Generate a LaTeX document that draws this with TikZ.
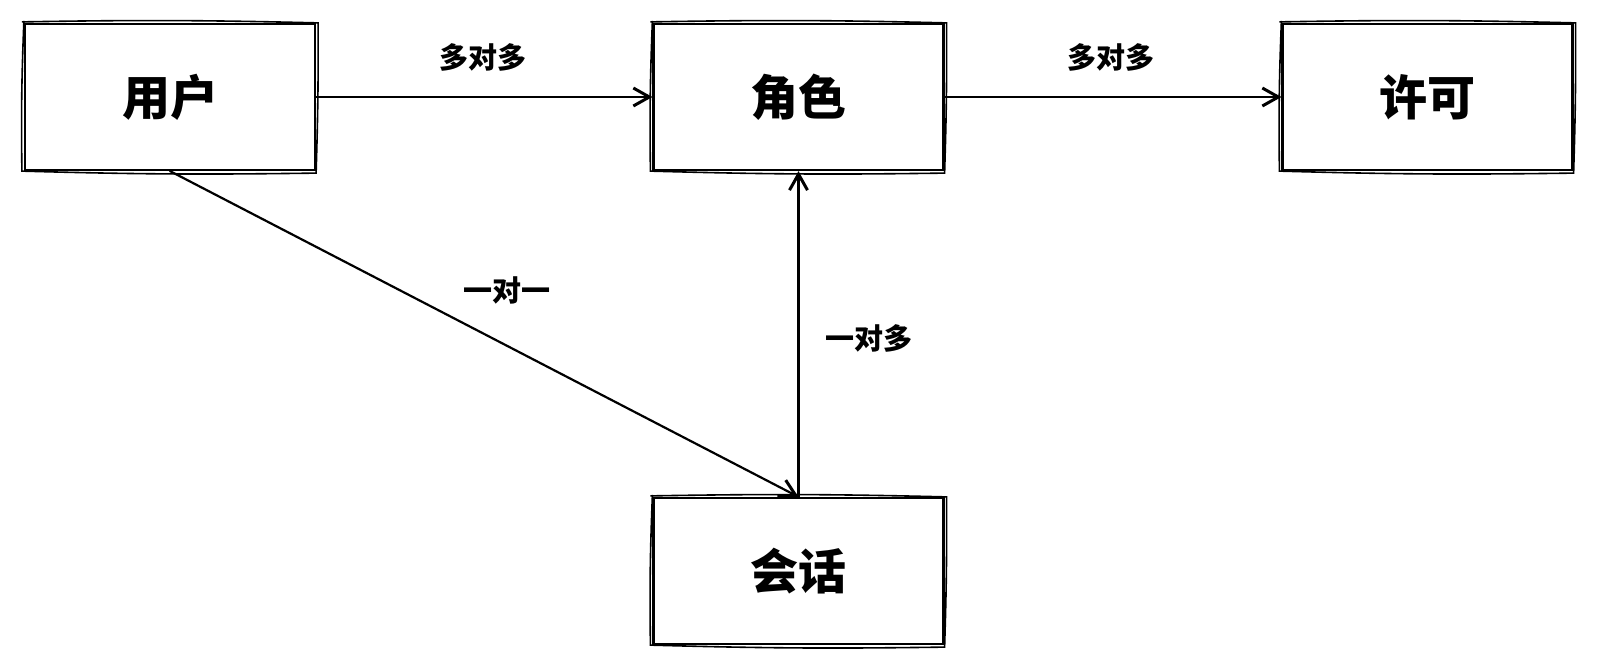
\documentclass[tikz,border=0pt]{standalone}
\usepackage{fontspec}
\setmainfont{Noto Sans CJK SC}
\usetikzlibrary{arrows.meta}
\tikzset{
  entity/.style={draw=black, line width=1.1pt, minimum width=145pt, minimum height=73pt,
    inner sep=0pt, font=\fontsize{24}{24}\selectfont\bfseries, fill=white},
  rel/.style={font=\fontsize{14.5}{14.5}\selectfont\bfseries, inner sep=0pt},
  link/.style={draw=black, line width=1.1pt, line cap=round,
    -{Straight Barb[length=8pt,width=9pt,line width=1.5pt]}},
  sketch/.style={draw=black, line width=0.8pt}
}
\begin{document}
\begin{tikzpicture}[x=0.5pt, y=-0.5pt]
\useasboundingbox (0,0) rectangle (1600,669);
\fill[white] (0,0) rectangle (1600,669);

\node[entity] (user) at (170,97) {用户};
\node[entity] (role) at (798.5,97) {角色};
\node[entity] (perm) at (1427.5,97) {许可};
\node[entity] (sess) at (798.5,571) {会话};

\foreach \n in {user,role,perm,sess}{
  \draw[sketch] ([xshift=-1pt,yshift=0.5pt]\n.north west) to[bend left=1.2] ([xshift=1pt]\n.north east)
    to[bend left=1] ([yshift=-1pt]\n.south east) to[bend left=1.2] ([xshift=-1pt]\n.south west)
    to[bend left=1.5] ([yshift=1pt]\n.north west);
}

\draw[link] (user.east) -- (role.west);
\draw[link] (role.east) -- (perm.west);
\draw[link] (user.south) -- (sess.north);
\draw[link] (sess.north) -- (role.south);

\node[rel] (l1) at (483,57) {多对多};
\node[rel] (l2) at (1111,57) {多对多};
\node[rel] (l3) at (507,290) {一对一};
\node[rel] (l4) at (869,338) {一对多};
\end{tikzpicture}
\end{document}
